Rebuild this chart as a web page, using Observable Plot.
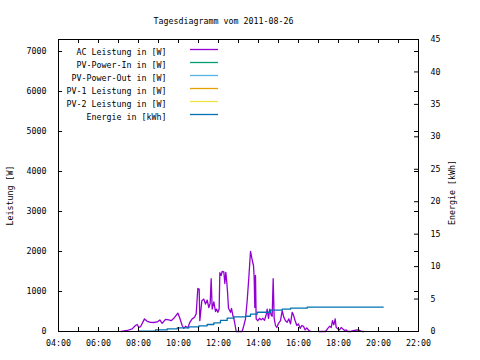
<!DOCTYPE html>
<html>
<head>
<meta charset="utf-8">
<script src="https://cdn.jsdelivr.net/npm/d3@7"></script>
<script src="https://cdn.jsdelivr.net/npm/@observablehq/plot@0.6"></script>
<style>
  html, body { margin: 0; padding: 0; background: white; }
</style>
</head>
<body>
<div id="chart"></div>
<script>
const title = "Tagesdiagramm vom 2011-08-26";
const day = "2011-08-26";
const yLabelLeft = "Leistung [W]";
const yLabelRight = "Energie [kWh]";

const legendNames = ["AC Leistung in [W]", "PV-Power-In in [W]", "PV-Power-Out in [W]", "PV-1 Leistung in [W]", "PV-2 Leistung in [W]", "Energie in [kWh]"];
const legendColors = ["#9400d3", "#009e73", "#56b4e9", "#e69f00", "#f0e442", "#0072b2"];

const leftTicks = [0, 1000, 2000, 3000, 4000, 5000, 6000, 7000];
const rightTicks = [0, 5, 10, 15, 20, 25, 30, 35, 40, 45];
const xStart = "04:00", xEnd = "22:00";

// AC Leistung [W]
const acTimes = ["07:08","07:26","07:41","07:51","07:56","08:01","08:06","08:18","08:26","08:36","08:46","08:56",
  "09:04","09:11","09:21","09:31","09:38","09:46","09:58","10:04","10:11","10:16","10:21","10:28","10:34","10:41",
  "10:48","10:53","10:58","11:02","11:04","11:10","11:16","11:21","11:26","11:31","11:35","11:38","11:41","11:46",
  "11:51","11:54","11:58","12:02","12:04","12:08","12:11","12:16","12:19","12:22","12:25","12:27","12:30","12:36",
  "12:39","12:43","12:46","12:50","12:53","13:11","13:16","13:21","13:26","13:31","13:36","13:39","13:42","13:45",
  "13:47","13:49","13:51","13:53","13:58","14:03","14:08","14:13","14:18","14:23","14:26","14:30","14:34","14:38",
  "14:41","14:44","14:47","14:51","14:55","15:00","15:06","15:11","15:16","15:21","15:26","15:31","15:36","15:41",
  "15:45","15:50","15:55","16:00","16:05","16:10","16:15","16:20","16:25","16:31","16:38","16:50","17:01","17:21",
  "17:28","17:33","17:38","17:42","17:46","17:50","17:53","17:58","18:03","18:08","18:13","18:18","18:23","18:28",
  "18:36","18:48","18:56","19:04","19:11","19:16"];
const acValues = [0,25,65,150,175,105,120,315,255,230,225,240,
  290,205,305,290,270,330,460,330,150,80,130,90,230,315,
  355,440,1075,1060,270,770,810,685,785,600,700,1320,560,740,
  500,560,480,560,1470,1400,1500,1490,1200,1480,1220,1000,580,480,
  580,400,330,150,0,0,150,315,770,1350,2000,1880,1750,1650,
  1350,600,1400,315,270,330,290,330,280,420,560,330,560,410,
  380,1320,330,150,100,205,270,520,355,270,230,315,190,480,
  410,270,150,190,80,150,130,40,90,25,0,null,0,0,
  80,130,100,270,165,315,105,65,40,100,65,25,40,0,
  0,25,40,25,0,0];

// Energie [kWh]
const enTimes = ["08:01","08:51","09:26","09:56","10:31","11:01","11:26","11:46","12:06","12:26","12:46","13:21",
  "13:36","13:56","14:36","15:11","15:36","16:26","20:14"];
const enValues = [0.05,0.25,0.4,0.55,0.7,0.87,1.08,1.33,1.7,2.05,2.25,2.35,
  2.67,2.97,3.28,3.44,3.6,3.75,3.75];

const parse = d3.utcParse("%Y-%m-%d %H:%M");
const t = s => parse(day + " " + s);

const yMax = 7300, y2Max = 45;
const k = yMax / y2Max;

const ac = acTimes.map((s, i) => ({time: t(s), value: acValues[i]}));
const en = enTimes.map((s, i) => ({time: t(s), value: enValues[i] * k}));

const W = 480, H = 360;
const mL = 58, mR = 62, mT = 39, mB = 29;
const fw = W - mL - mR, fh = H - mT - mB;
const tl = 4;

const hours = d3.utcHour.range(t(xStart), d3.utcMinute.offset(t(xEnd), 1));
const labelHours = hours.filter(d => d.getUTCHours() % 2 === 0);

const font = "'DejaVu Sans Mono', monospace";

// legend layout
const legTextDx = 108, legRowDy = 13, legTop = 10;
const legLineX1 = 190, legLineX2 = 218;

const chart = Plot.plot({
  width: W, height: H,
  marginLeft: mL, marginRight: mR, marginTop: mT, marginBottom: mB,
  style: {fontFamily: font, fontSize: "8.3px", color: "black", background: "white"},
  x: {type: "utc", domain: [t(xStart), t(xEnd)]},
  y: {domain: [0, yMax]},
  marks: [
    Plot.line(ac, {x: "time", y: "value", stroke: legendColors[0], strokeWidth: 1.3}),
    Plot.line(en, {x: "time", y: "value", stroke: legendColors[5], strokeWidth: 1.3, curve: "step-after"}),
    Plot.frame({stroke: "black", strokeWidth: 1}),
    // inward ticks
    Plot.tickX(hours, {x: d => d, insetTop: fh - tl, stroke: "black"}),
    Plot.tickX(hours, {x: d => d, insetBottom: fh - tl, stroke: "black"}),
    Plot.tickY(leftTicks, {y: d => d, insetRight: fw - tl, stroke: "black"}),
    Plot.tickY(leftTicks, {y: d => d, insetLeft: fw - tl, stroke: "black"}),
    Plot.tickY(rightTicks, {y: d => d * k, insetLeft: fw - tl, stroke: "black"}),
    // tick labels
    Plot.axisX({ticks: labelHours, tickSize: 0, tickPadding: 9, tickFormat: d3.utcFormat("%H:%M"), label: null}),
    Plot.axisY({ticks: leftTicks, tickSize: 0, tickPadding: 12, tickFormat: d => String(d), label: null}),
    Plot.axisY({anchor: "right", ticks: rightTicks.map(v => v * k), tickSize: 0, tickPadding: 12,
      tickFormat: d => String(Math.round(d / k)), label: null}),
    // titles
    Plot.text([title], {frameAnchor: "top", dx: -15, dy: -21}),
    Plot.text([yLabelLeft], {frameAnchor: "left", textAnchor: "middle", dx: -48, dy: 10, rotate: -90}),
    Plot.text([yLabelRight], {frameAnchor: "right", textAnchor: "middle", dx: 34, dy: 7, rotate: -90}),
    // legend text
    ...legendNames.map((n, i) => Plot.text([n], {frameAnchor: "top-left", textAnchor: "end",
      dx: legTextDx, dy: legTop + legRowDy * i}))
  ]
});

// legend sample lines (layout only)
const svg = d3.select(chart);
const g = svg.append("g").attr("class", "legend-lines");
legendColors.forEach((c, i) => {
  const yy = mT + legTop + legRowDy * i + 0.5;
  g.append("line")
    .attr("x1", legLineX1).attr("x2", legLineX2)
    .attr("y1", yy).attr("y2", yy)
    .attr("stroke", c).attr("stroke-width", 1.3);
});
document.getElementById("chart").appendChild(chart);
</script>
</body>
</html>
